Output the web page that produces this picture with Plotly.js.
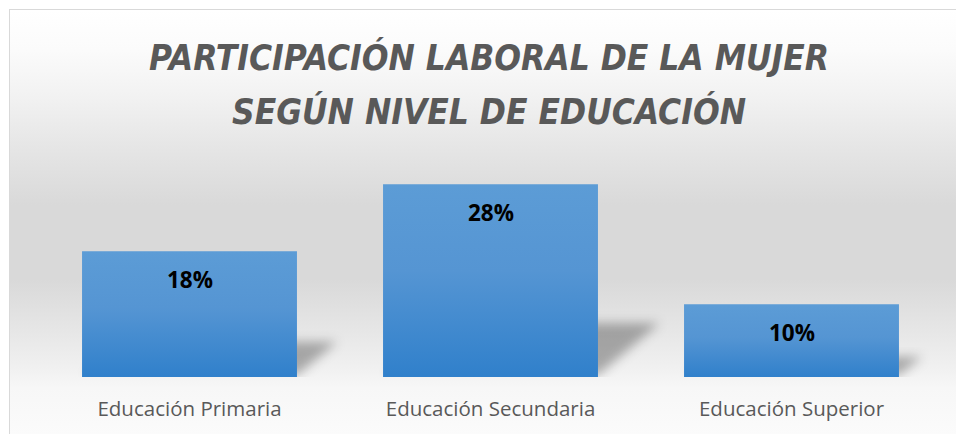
<!DOCTYPE html>
<html>
<head>
<meta charset="utf-8">
<script src="https://cdn.plot.ly/plotly-3.0.1.min.js"></script>
<style>
  html, body { margin: 0; padding: 0; background: #ffffff; }
  #wrap { position: relative; width: 956px; height: 434px; overflow: hidden; background: #ffffff; }
  #bg {
    position: absolute; left: 9px; top: 9px; width: 960px; height: 440px;
    border: 1px solid #d9d9d9;
    background: linear-gradient(to bottom,
      #ffffff 0px, #fbfbfb 40px, #f1f1f1 90px, #e5e5e5 140px,
      #d9d9d9 195px, #d9d9d9 270px, #e6e6e6 320px, #f1f1f1 360px,
      #f7f7f7 378px, #fbfbfb 425px);
  }
  #chart { position: absolute; left: 0; top: 0; width: 956px; height: 434px; }
</style>
</head>
<body>
<div id="wrap">
  <div id="bg"></div>
  <div id="chart"></div>
</div>
<script>
// ---- data ----
const categories = ["Educación Primaria", "Educación Secundaria", "Educación Superior"];
const participation = [0.180, 0.276, 0.104];
const titleLine1 = "PARTICIPACIÓN LABORAL DE LA MUJER";
const titleLine2 = "SEGÚN NIVEL DE EDUCACIÓN";

const titleFont = {
  family: "'DejaVu Sans Condensed', 'Liberation Sans Narrow', 'DejaVu Sans', sans-serif",
  size: 35, color: "#595959", weight: "bold", style: "italic"
};

const valueLabels = categories.map((c, i) => ({
  x: c, y: participation[i], xref: "x", yref: "y",
  text: Math.round(participation[i] * 100) + "%",
  showarrow: false, yanchor: "middle", yshift: -28,
  font: { family: "'Open Sans', sans-serif", size: 22.5, color: "#000000", weight: "bold" }
}));

const data = [{
  type: "bar",
  x: categories,
  y: participation,
  marker: { color: "#4a8fd3", line: { width: 0 } },
  hoverinfo: "x+y"
}];

const layout = {
  width: 956, height: 434,
  margin: { l: 39, r: 14, t: 150, b: 57, pad: 0 },
  paper_bgcolor: "rgba(0,0,0,0)",
  plot_bgcolor: "rgba(0,0,0,0)",
  showlegend: false,
  bargap: 0.286,
  title: {
    text: titleLine1, font: titleFont,
    xref: "container", x: 489 / 956, xanchor: "center",
    yref: "container", y: 1 - 57.5 / 434, yanchor: "middle"
  },
  xaxis: {
    showgrid: false, zeroline: false, showline: false, ticks: "",
    tickfont: { family: "'Open Sans', sans-serif", size: 20.5, color: "#595959" },
    ticklabelstandoff: 17
  },
  yaxis: { visible: false, range: [0, 0.325], fixedrange: true },
  annotations: [
    {
      text: titleLine2, font: titleFont, showarrow: false,
      xref: "paper", x: (489 - 39) / 903, xanchor: "center",
      yref: "paper", y: (377 - 111) / 227, yanchor: "middle"
    }
  ].concat(valueLabels)
};

Plotly.newPlot("chart", data, layout, { displayModeBar: false, staticPlot: true }).then(function (gd) {
  const svgNS = "http://www.w3.org/2000/svg";
  const defs = gd.querySelector(".main-svg defs");
  // bar gradient
  const grad = document.createElementNS(svgNS, "linearGradient");
  grad.setAttribute("id", "barGrad");
  grad.setAttribute("x1", "0"); grad.setAttribute("y1", "0");
  grad.setAttribute("x2", "0"); grad.setAttribute("y2", "1");
  [["0", "#5c9cd6"], ["0.45", "#5595d3"], ["1", "#3080cb"]].forEach(function (s) {
    const st = document.createElementNS(svgNS, "stop");
    st.setAttribute("offset", s[0]); st.setAttribute("stop-color", s[1]);
    grad.appendChild(st);
  });
  defs.appendChild(grad);
  // shadow blur
  const filt = document.createElementNS(svgNS, "filter");
  filt.setAttribute("id", "shadowBlur");
  filt.setAttribute("x", "-50%"); filt.setAttribute("y", "-50%");
  filt.setAttribute("width", "200%"); filt.setAttribute("height", "200%");
  const blur = document.createElementNS(svgNS, "feGaussianBlur");
  blur.setAttribute("stdDeviation", "5.5");
  filt.appendChild(blur);
  defs.appendChild(filt);

  gd.querySelectorAll(".barlayer .trace").forEach(function (tr) {
    const pointsG = tr.querySelector(".points");
    if (!pointsG) return;
    const paths = Array.from(pointsG.querySelectorAll(".point path"));
    paths.forEach(function (p) {
      p.style.fill = "url(#barGrad)";
      const b = p.getBBox();
      const x0 = b.x, x1 = b.x + b.width, yB = b.y + b.height, h = b.height;
      const s = 0.32 * h, hh = 0.28 * h;
      const sh = document.createElementNS(svgNS, "path");
      sh.setAttribute("d", "M" + (x0 + 4) + "," + (yB - 2) + "L" + x1 + "," + (yB - 2) +
        "L" + (x1 + s) + "," + (yB - hh) + "L" + (x0 + s) + "," + (yB - hh) + "Z");
      sh.setAttribute("fill", "rgba(0,0,0,0.30)");
      sh.setAttribute("filter", "url(#shadowBlur)");
      pointsG.insertBefore(sh, pointsG.firstChild);
    });
  });
});
</script>
</body>
</html>
